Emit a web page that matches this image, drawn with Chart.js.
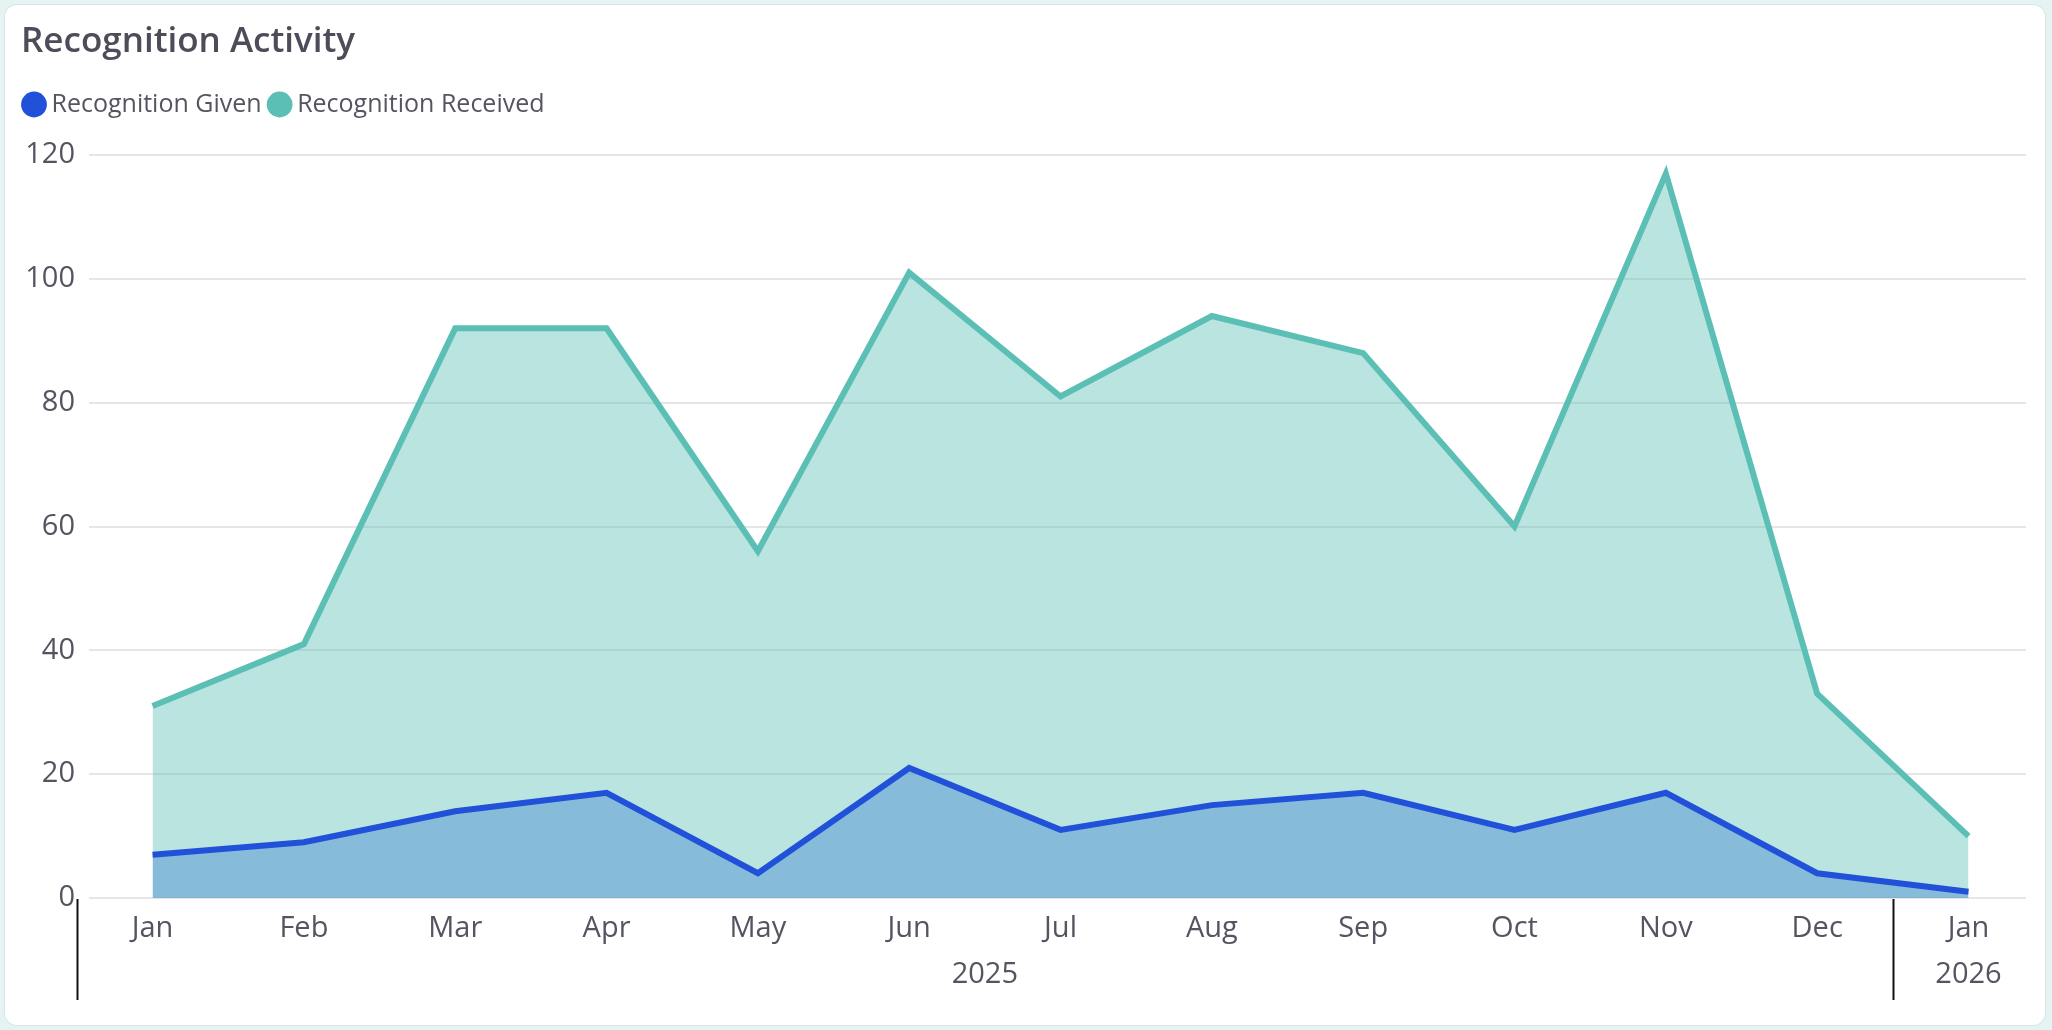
<!DOCTYPE html>
<html lang="en">
<head>
  <meta charset="UTF-8" />
  <title>Recognition Activity</title>
  <script src="https://cdn.jsdelivr.net/npm/chart.js"></script>
  <style>
    html, body { margin: 0; padding: 0; background: #e6f3f3; }
    body { width: 2052px; height: 1030px; position: relative; overflow: hidden; }
    .card {
      position: absolute; left: 5px; top: 5px; width: 2040px; height: 1020px;
      background: #fff; border-radius: 12px;
      box-shadow: 0 0 0 1px #d8e6e6;
    }
    .card canvas { position: absolute; left: 0; top: 0; }
  </style>
</head>
<body>
  <div class="card">
    <canvas id="activityChart"></canvas>
  </div>

  <script>
    // months along the x axis and the year each one belongs to
    const months = ['Jan', 'Feb', 'Mar', 'Apr', 'May', 'Jun', 'Jul', 'Aug', 'Sep', 'Oct', 'Nov', 'Dec', 'Jan'];
    const years = ['2025', '2025', '2025', '2025', '2025', '2025', '2025', '2025', '2025', '2025', '2025', '2025', '2026'];

    const recognitionGiven = [7, 9, 14, 17, 4, 21, 11, 15, 17, 11, 17, 4, 1];
    const recognitionReceived = [31, 41, 92, 92, 56, 101, 81, 94, 88, 60, 117, 33, 10];

    const textColor = '#555461';
    const fontFamily = '"Open Sans", "Noto Sans", sans-serif';

    // second row of x labels: year names centred under their months, with a divider before each year
    const yearRow = {
      id: 'yearRow',
      afterDraw(chart) {
        const x = chart.scales.x;
        const ctx = chart.ctx;
        const bottom = chart.chartArea.bottom;
        ctx.save();
        ctx.font = '29px ' + fontFamily;
        ctx.fillStyle = textColor;
        ctx.textAlign = 'center';
        ctx.textBaseline = 'middle';
        let start = 0;
        for (let i = 1; i <= years.length; i++) {
          if (i === years.length || years[i] !== years[start]) {
            const mid = (x.getPixelForValue(start) + x.getPixelForValue(i - 1)) / 2;
            ctx.fillText(years[start], mid, bottom + 77);
            const sep = Math.round(x.getPixelForValue(start - 0.5)) + 0.5;
            ctx.strokeStyle = '#111';
            ctx.lineWidth = 2;
            ctx.beginPath();
            ctx.moveTo(sep, bottom + 1);
            ctx.lineTo(sep, bottom + 102);
            ctx.stroke();
            start = i;
          }
        }
        ctx.restore();
      }
    };

    // legend sits a little further left and leaves more room above the plot
    const legendTweaks = {
      id: 'legendTweaks',
      beforeInit(chart) {
        const fit = chart.legend.fit;
        chart.legend.fit = function () {
          fit.call(this);
          this.height += 28;
        };
      },
      afterLayout(chart) {
        chart.legend.left -= 5;
      }
    };

    new Chart(document.getElementById('activityChart'), {
      type: 'line',
      data: {
        datasets: [
          {
            label: 'Recognition Given',
            data: recognitionGiven.map((v, i) => ({ x: i, y: v })),
            borderColor: '#2251d9',
            backgroundColor: 'rgba(81, 145, 209, 0.5)',
            pointBackgroundColor: '#2251d9',
            borderWidth: 6,
            pointRadius: 0,
            fill: 'origin',
            tension: 0
          },
          {
            label: 'Recognition Received',
            data: recognitionReceived.map((v, i) => ({ x: i, y: v })),
            borderColor: '#5bbfb5',
            backgroundColor: 'rgba(91, 191, 181, 0.42)',
            pointBackgroundColor: '#5bbfb5',
            borderWidth: 6,
            pointRadius: 0,
            fill: 'origin',
            tension: 0
          }
        ]
      },
      options: {
        responsive: true,
        maintainAspectRatio: false,
        animation: false,
        layout: { padding: { left: 16, right: 19, top: 0, bottom: 77 } },
        plugins: {
          title: {
            display: true,
            text: 'Recognition Activity',
            align: 'start',
            color: '#4d4c59',
            font: { family: fontFamily, size: 35, weight: '600' },
            padding: { top: 16, bottom: 16 }
          },
          legend: {
            align: 'start',
            labels: {
              usePointStyle: true,
              pointStyle: 'circle',
              boxWidth: 10,
              boxHeight: 14,
              color: textColor,
              font: { family: fontFamily, size: 25 },
              padding: 13
            }
          },
          tooltip: { enabled: false }
        },
        scales: {
          x: {
            type: 'linear',
            min: -0.42,
            max: 12.38,
            afterBuildTicks: axis => { axis.ticks = months.map((_, i) => ({ value: i })); },
            afterFit: axis => { axis.height = 50; },
            grid: { display: false, drawTicks: false },
            border: { display: false },
            ticks: {
              autoSkip: false,
              maxRotation: 0,
              padding: 13,
              color: textColor,
              font: { family: fontFamily, size: 29 },
              callback: value => months[Math.round(value)]
            }
          },
          y: {
            min: 0,
            max: 120,
            afterFit: axis => { axis.width = 68; },
            ticks: {
              stepSize: 20,
              padding: 14,
              color: textColor,
              font: { family: fontFamily, size: 29 }
            },
            grid: { color: '#e6e6e6', lineWidth: 2, drawTicks: false },
            border: { display: false }
          }
        }
      },
      plugins: [yearRow, legendTweaks]
    });
  </script>
</body>
</html>
